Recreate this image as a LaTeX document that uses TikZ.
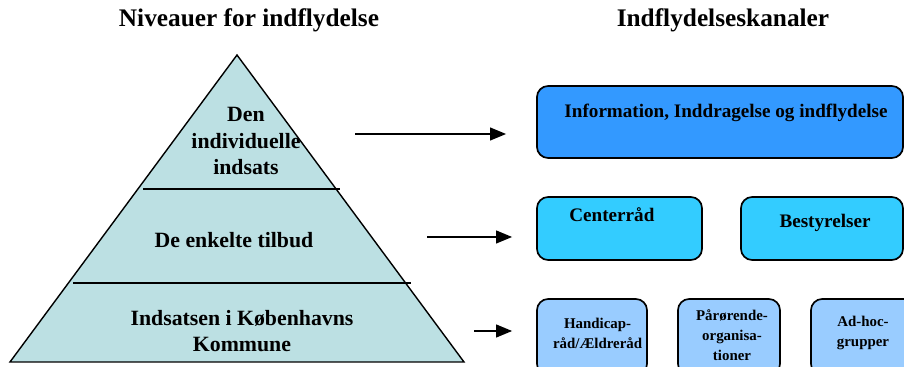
\documentclass[tikz,border=0pt]{standalone}
\usepackage{fontspec}
\setmainfont{Liberation Serif}
\usetikzlibrary{arrows.meta, positioning}
\definecolor{pyrfill}{RGB}{188,224,227}
\definecolor{infoblue}{RGB}{51,153,255}
\definecolor{midblue}{RGB}{51,204,255}
\definecolor{lowblue}{RGB}{153,204,255}
\tikzstyle{kanal} = [rectangle, rounded corners=0.28cm, draw=black, line width=1.2pt, inner sep=0pt]
\tikzstyle{kanaltxt} = [align=center, font=\bfseries\fontsize{13.6}{16}\selectfont]
\tikzstyle{smaltxt} = [align=center, font=\bfseries\fontsize{10.6}{14.2}\selectfont]
\tikzstyle{niveau} = [align=center, font=\bfseries\fontsize{15.5}{19}\selectfont]
\tikzstyle{titel} = [font=\bfseries\fontsize{18}{21}\selectfont]
\tikzstyle{arrow} = [line width=1.2pt, -{Triangle[length=0.4cm,width=0.32cm]}]

\begin{document}
\begin{tikzpicture}[x=0.025cm, y=-0.025cm]
			\path[use as bounding box, clip] (0,0) rectangle (904,367);

			% headings
			\node[titel] (tniv) at (249,20) {Niveauer for indflydelse};
			\node[titel] (tkan) at (723,20) {Indflydelseskanaler};

			% pyramid
			\draw[fill=pyrfill, line width=1pt] (237,55) -- (464,362) -- (10,362) -- cycle;
			\draw[line width=1.2pt] (143,189) -- (340,189);
			\draw[line width=1.2pt] (73,283) -- (411,283);

			\node[niveau] (indiv) at (246,141) {Den\\individuelle\\indsats};
			\node[niveau] (tilbud) at (234,240) {De enkelte tilbud};
			\node[niveau] (kbh) at (242,331) {Indsatsen i Københavns\\Kommune};

			% channels
			\node[kanal, fill=infoblue, minimum width=9.15cm, minimum height=1.8cm,
				label={[kanaltxt, xshift=0.15cm, yshift=0.225cm]center:{Information, Inddragelse og indflydelse}}] (info) at (720,122) {};
			\node[kanal, fill=midblue, minimum width=4.125cm, minimum height=1.575cm,
				label={[kanaltxt, xshift=-0.19cm, yshift=0.34cm]center:{Centerråd}}] (center) at (619.5,228.5) {};
			\node[kanal, fill=midblue, minimum width=4.05cm, minimum height=1.575cm,
				label={[kanaltxt, xshift=0.075cm, yshift=0.14cm]center:{Bestyrelser}}] (bestyr) at (822,228.5) {};
			\node[kanal, fill=lowblue, minimum width=2.75cm, minimum height=1.9cm,
				label={[smaltxt, xshift=0.14cm, yshift=0.1cm]center:{Handicap-\\råd/Ældreråd}}] (handi) at (592,337) {};
			\node[kanal, fill=lowblue, minimum width=2.55cm, minimum height=1.9cm,
				label={[smaltxt, xshift=0.075cm, yshift=0.05cm]center:{Pårørende-\\organisa-\\tioner}}] (paar) at (729,337) {};
			\node[kanal, fill=lowblue, minimum width=2.6cm, minimum height=1.9cm,
				label={[smaltxt, yshift=0.1cm]center:{Ad-hoc-\\grupper}}] (adhoc) at (863,337) {};

			% arrows from the levels to the channels
			\coordinate (p1) at (355,134);
			\coordinate (p2) at (427,237);
			\coordinate (p3) at (474,331);
			\draw[arrow, shorten >=0.75cm] (p1) -- (info.west |- p1);
			\draw[arrow, shorten >=0.6cm] (p2) -- (center.west |- p2);
			\draw[arrow, shorten >=0.6cm] (p3) -- (handi.west |- p3);
\end{tikzpicture}
\end{document}
